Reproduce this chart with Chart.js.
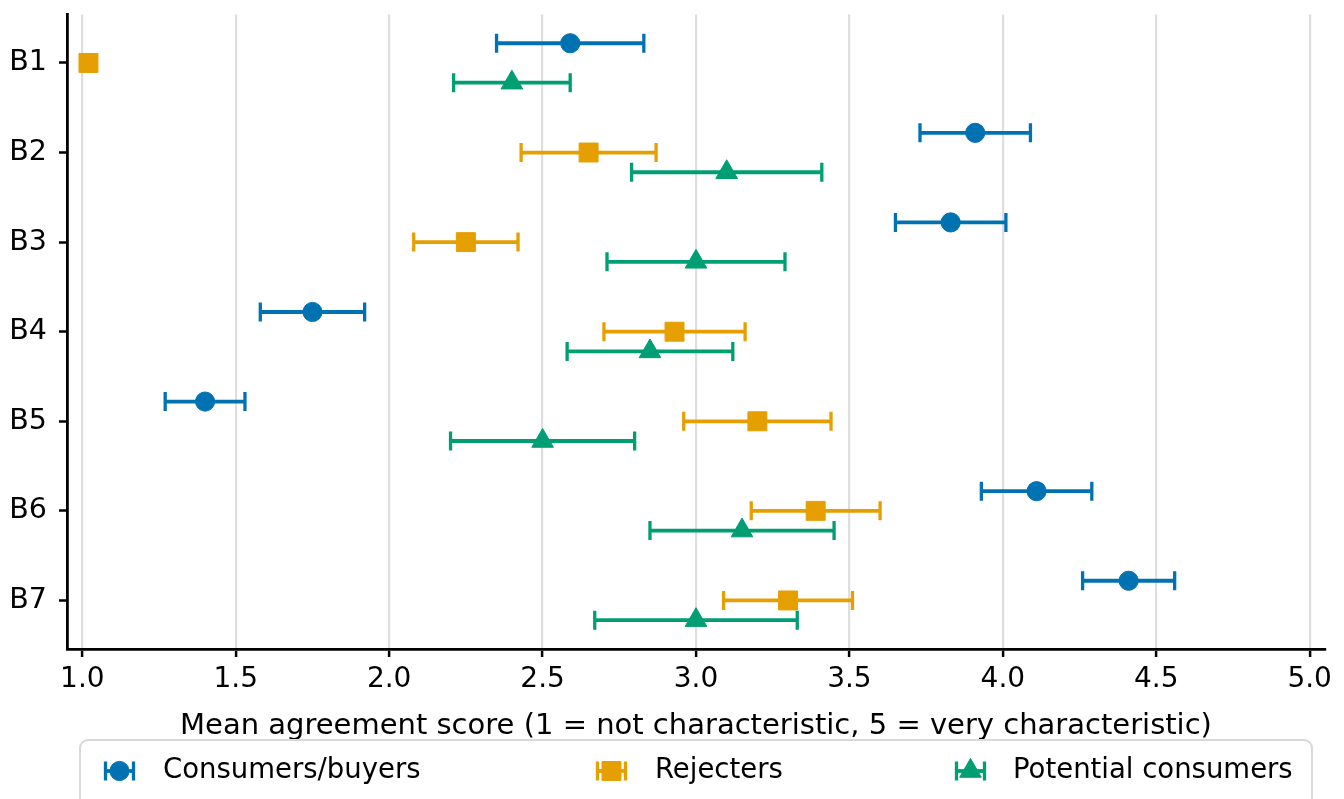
<!DOCTYPE html>
<html>
<head>
<meta charset="utf-8">
<script src="https://cdn.jsdelivr.net/npm/chart.js@4.4.1/dist/chart.umd.min.js"></script>
<style>
  html, body { margin: 0; padding: 0; background: #fff; }
  #wrap { width: 1344px; height: 799px; }
</style>
</head>
<body>
<div id="wrap"><canvas id="agreementChart" width="1344" height="799"></canvas></div>
<script>
const items = ['B1', 'B2', 'B3', 'B4', 'B5', 'B6', 'B7'];
const groups = ['Consumers/buyers', 'Rejecters', 'Potential consumers'];

const consumersMean = [2.59, 3.91, 3.83, 1.75, 1.40, 4.11, 4.41];
const consumersLow  = [2.35, 3.73, 3.65, 1.58, 1.27, 3.93, 4.26];
const consumersHigh = [2.83, 4.09, 4.01, 1.92, 1.53, 4.29, 4.56];

const rejectersMean = [1.02, 2.65, 2.25, 2.93, 3.20, 3.39, 3.30];
const rejectersLow  = [1.02, 2.43, 2.08, 2.70, 2.96, 3.18, 3.09];
const rejectersHigh = [1.02, 2.87, 2.42, 3.16, 3.44, 3.60, 3.51];

const potentialMean = [2.40, 3.10, 3.00, 2.85, 2.50, 3.15, 3.00];
const potentialLow  = [2.21, 2.79, 2.71, 2.58, 2.20, 2.85, 2.67];
const potentialHigh = [2.59, 3.41, 3.29, 3.12, 2.80, 3.45, 3.33];

const xTicks = [1.0, 1.5, 2.0, 2.5, 3.0, 3.5, 4.0, 4.5, 5.0];

// look of each group (offset = shift within the row, in row units)
const series = [
  { label: groups[0], mean: consumersMean, low: consumersLow, high: consumersHigh,
    color: '#0072b2', marker: 'circle', radius: 9.6, offset: -0.22 },
  { label: groups[1], mean: rejectersMean, low: rejectersLow, high: rejectersHigh,
    color: '#e69f00', marker: 'rect', radius: 13.4, offset: 0 },
  { label: groups[2], mean: potentialMean, low: potentialLow, high: potentialHigh,
    color: '#009e73', marker: 'triangle', radius: 12.5, offset: 0.22 }
];

const font = 'DejaVu Sans';

const datasets = [];
series.forEach((s, k) => {
  const bars = [];
  s.mean.forEach((m, i) => {
    const y = i + s.offset;
    bars.push({ x: s.low[i], y: y }, { x: s.high[i], y: y }, { x: null, y: null });
  });
  datasets.push({
    label: s.label + ' CI',
    data: bars,
    showLine: true,
    spanGaps: false,
    borderColor: s.color,
    borderWidth: 3.8,
    pointStyle: 'line',
    rotation: 90,
    pointRadius: 9.5,
    pointBorderWidth: 3.3,
    pointBorderColor: s.color,
    order: 10 - 2 * k
  });
  datasets.push({
    label: s.label,
    data: s.mean.map((m, i) => ({ x: m, y: i + s.offset })),
    pointStyle: s.marker,
    pointRadius: s.radius,
    backgroundColor: s.color,
    borderColor: s.color,
    borderWidth: 1,
    order: 9 - 2 * k
  });
});

// matplotlib-style legend box under the axis
const legendCols = [{ icon: 104, text: 163 }, { icon: 596, text: 655 }, { icon: 955, text: 1013 }];
const boxLegend = {
  id: 'boxLegend',
  afterDraw(chart) {
    const ctx = chart.ctx;
    ctx.save();
    ctx.beginPath();
    ctx.roundRect(80, 740, 1232, 90, 8);
    ctx.fillStyle = 'rgba(255,255,255,0.85)';
    ctx.fill();
    ctx.strokeStyle = '#d9d9d9';
    ctx.lineWidth = 2;
    ctx.stroke();

    const y = 771;
    series.forEach((s, k) => {
      const c = legendCols[k];
      ctx.strokeStyle = s.color;
      ctx.fillStyle = s.color;
      ctx.lineWidth = 3.8;
      ctx.beginPath();
      ctx.moveTo(c.icon + 1.5, y);
      ctx.lineTo(c.icon + 29.5, y);
      ctx.stroke();
      ctx.lineWidth = 3.3;
      ctx.beginPath();
      ctx.moveTo(c.icon + 1.5, y - 9.5);
      ctx.lineTo(c.icon + 1.5, y + 9.5);
      ctx.moveTo(c.icon + 29.5, y - 9.5);
      ctx.lineTo(c.icon + 29.5, y + 9.5);
      ctx.stroke();
      ctx.lineWidth = 1;
      Chart.helpers.drawPoint(ctx, { pointStyle: s.marker, radius: s.radius, rotation: 0, borderWidth: 1 }, c.icon + 15.5, y);

      ctx.fillStyle = '#000';
      ctx.font = '27.5px "' + font + '"';
      ctx.textAlign = 'left';
      ctx.textBaseline = 'middle';
      ctx.fillText(s.label, c.text, y);
    });
    ctx.restore();
  }
};

new Chart(document.getElementById('agreementChart'), {
  type: 'scatter',
  data: { datasets: datasets },
  options: {
    responsive: false,
    animation: false,
    layout: { padding: { top: 11, right: 19, left: 0, bottom: 0 } },
    plugins: { legend: { display: false }, tooltip: { enabled: false } },
    scales: {
      x: {
        type: 'linear',
        min: 0.95,
        max: 5.05,
        afterBuildTicks: s => { s.ticks = xTicks.map(v => ({ value: v })); },
        afterFit: s => { s.height = 150; s.paddingLeft = 0; s.paddingRight = 0; },
        ticks: {
          callback: v => v.toFixed(1),
          font: { family: font, size: 28 },
          color: '#000',
          padding: 6,
          maxRotation: 0,
          autoSkip: false
        },
        grid: { color: '#dedede', lineWidth: 2.2, tickColor: '#000', tickLength: 8, tickWidth: 2.5 },
        border: { color: '#000', width: 2.8 },
        title: {
          display: true,
          text: 'Mean agreement score (1 = not characteristic, 5 = very characteristic)',
          font: { family: font, size: 29 },
          color: '#000',
          padding: { top: 0, bottom: 55 }
        }
      },
      y: {
        type: 'linear',
        reverse: true,
        min: -0.542,
        max: 6.542,
        afterBuildTicks: s => { s.ticks = items.map((c, i) => ({ value: i })); },
        afterFit: s => { s.width = 67; s.paddingTop = 0; s.paddingBottom = 0; },
        ticks: {
          callback: v => items[v],
          font: { family: font, size: 28.5 },
          color: '#000',
          padding: 12,
          autoSkip: false
        },
        grid: { drawOnChartArea: false, tickColor: '#000', tickLength: 8, tickWidth: 2.5 },
        border: { color: '#000', width: 2.8 }
      }
    }
  },
  plugins: [boxLegend]
});
</script>
</body>
</html>
